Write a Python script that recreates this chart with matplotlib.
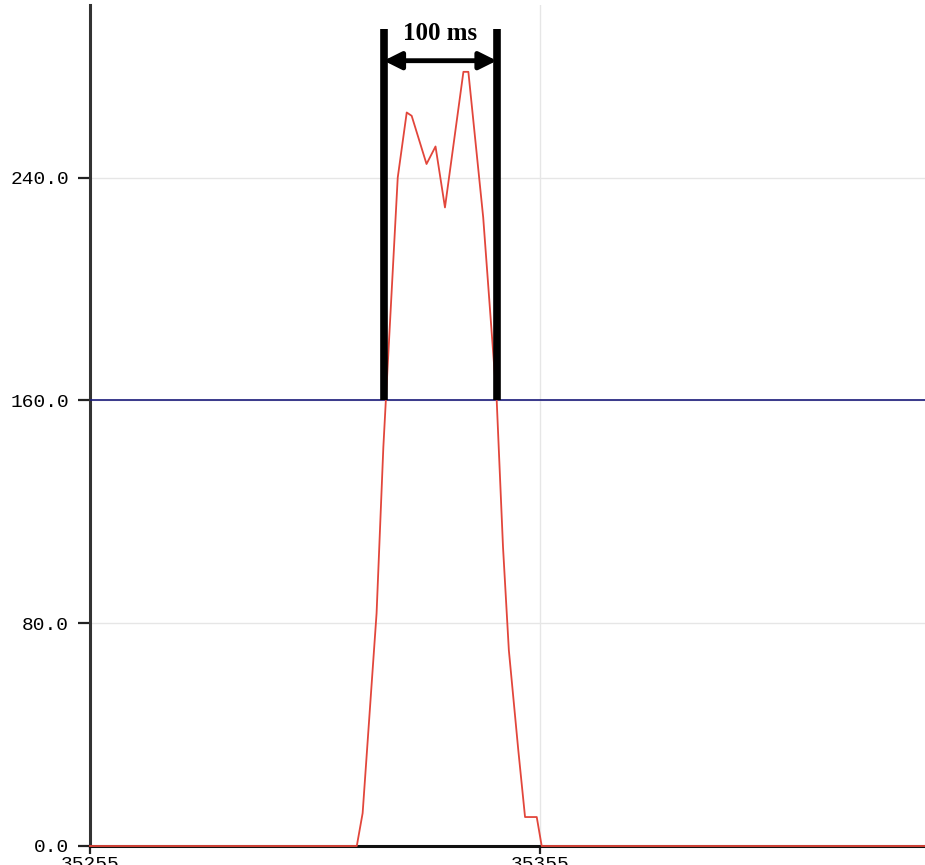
import matplotlib.pyplot as plt
import numpy as np

# Signal samples
x_vals = [35255, 35314.3, 35315.6, 35318.7, 35320.2, 35323.4, 35325.4, 35326.5,
          35329.8, 35331.8, 35333.9, 35338.0, 35339.1, 35342.4, 35345.4, 35346.8,
          35348.1, 35350.2, 35351.7, 35354.3, 35355.4, 35441]
y_vals = [0, 0, 11.8, 83.6, 143.1, 240, 263.4, 262.2,
          244.9, 251.2, 229.3, 278, 278, 225.7, 160, 107.4,
          70.3, 34.4, 10.4, 10.4, 0, 0]

threshold = 160.0
y_ticks = [0.0, 80.0, 160.0, 240.0]
x_ticks = [35255, 35355]
marker_left = 35320.3
marker_right = 35345.4
span_label = '100 ms'

fig = plt.figure(figsize=(9.25, 8.65), dpi=100)
ax = fig.add_axes([90 / 925, 19 / 865, 1 - 90 / 925, 1 - 19 / 865 - 5 / 865])
ax.set_xlim(35255, 35440.6)
ax.set_ylim(0, 302)

# grid
ax.set_yticks(y_ticks)
ax.set_xticks(x_ticks)
ax.grid(True, color='#e6e6e6', linewidth=1)
ax.set_axisbelow(True)

mono = 'Liberation Mono'
ax.set_yticklabels([f'{v:.1f}' for v in y_ticks], fontfamily=mono, fontsize=14)
ax.set_xticklabels([str(v) for v in x_ticks], fontfamily=mono, fontsize=14)
ax.tick_params(axis='y', direction='out', length=9, width=1.6, color='#222222', pad=6)
ax.tick_params(axis='x', direction='out', length=6, width=1.6, color='#222222', pad=1)

for s in ['top', 'right']:
    ax.spines[s].set_visible(False)
ax.spines['left'].set_color('#333333')
ax.spines['left'].set_linewidth(2.2)
ax.spines['bottom'].set_color('#111111')
ax.spines['bottom'].set_linewidth(2.2)

# threshold line
ax.axhline(threshold, color='#1a1a7a', linewidth=1.2, zorder=3)

# signal
ax.plot(x_vals, y_vals, color='#e2463b', linewidth=1.3, zorder=4, clip_on=False)

# duration markers
ax.vlines([marker_left, marker_right], threshold, 293.5, color='black', linewidth=5.5, zorder=5)
ax.annotate('', xy=(marker_left, 282), xytext=(marker_right, 282),
            arrowprops=dict(arrowstyle='<|-|>', color='black', lw=3.5,
                            mutation_scale=26, shrinkA=0, shrinkB=0), zorder=6)
ax.text((marker_left + marker_right) / 2, 287.5, span_label, ha='center', va='bottom',
        fontfamily='Liberation Serif', fontweight='bold', fontsize=18, zorder=6)

fig.savefig('out.png', dpi=100)
